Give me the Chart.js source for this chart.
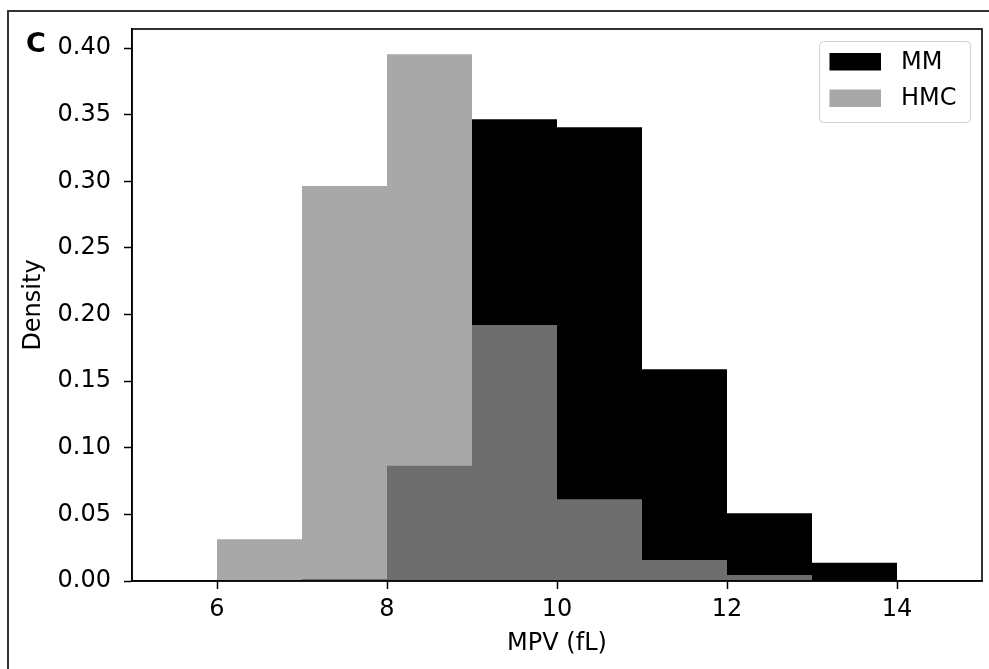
<!DOCTYPE html>
<html>
<head>
<meta charset="utf-8">
<script src="https://cdn.jsdelivr.net/npm/chart.js@4.4.1/dist/chart.umd.min.js"></script>
<style>
  html, body { margin: 0; padding: 0; background: #ffffff; }
  #wrap { width: 989px; height: 669px; position: relative; }
</style>
</head>
<body>
<div id="wrap"><canvas id="c" width="989" height="669"></canvas></div>
<script>
// ---- data ----
const binStarts = [6, 7, 8, 9, 10, 11, 12, 13];
const binWidth = 1;
const mmDensity  = [0, 0.0015, 0.0865, 0.3465, 0.3405, 0.1589, 0.0508, 0.0137];
const hmcDensity = [0.0313, 0.2964, 0.3953, 0.1921, 0.0613, 0.0158, 0.0045, 0];
const seriesLabels = ['MM', 'HMC'];
const xTicks = [6, 8, 10, 12, 14];
const yTicks = [0, 0.05, 0.10, 0.15, 0.20, 0.25, 0.30, 0.35, 0.40];
const xTitle = 'MPV (fL)';
const yTitle = 'Density';
const panelLetter = 'C';

const FONT = 'DejaVu Sans';
const FS = 24;
const MM_COLOR = '#000000';
const HMC_COLOR = 'rgba(142,142,142,0.773)';

function toPoints(vals) {
  return binStarts.map((s, i) => ({ x: s + binWidth / 2, y: vals[i] }));
}

const decorPlugin = {
  id: 'decor',
  afterDraw(chart) {
    const ctx = chart.ctx;
    const a = chart.chartArea;
    ctx.save();
    // full spine box
    ctx.strokeStyle = '#000';
    ctx.lineWidth = 1.6;
    ctx.strokeRect(a.left, a.top, a.right - a.left, a.bottom - a.top);
    // outer figure frame (open at right / bottom)
    ctx.strokeStyle = '#333';
    ctx.lineWidth = 2;
    ctx.beginPath();
    ctx.moveTo(8, 669);
    ctx.lineTo(8, 11);
    ctx.lineTo(989, 11);
    ctx.stroke();
    // panel letter
    ctx.fillStyle = '#000';
    ctx.font = 'bold 27px "' + FONT + '"';
    ctx.textBaseline = 'alphabetic';
    ctx.textAlign = 'left';
    ctx.fillText(panelLetter, 26, 52);
    // legend
    const lx = 819.5, ly = 41.5, lw = 151, lh = 81, r = 4;
    ctx.beginPath();
    ctx.moveTo(lx + r, ly);
    ctx.lineTo(lx + lw - r, ly);
    ctx.quadraticCurveTo(lx + lw, ly, lx + lw, ly + r);
    ctx.lineTo(lx + lw, ly + lh - r);
    ctx.quadraticCurveTo(lx + lw, ly + lh, lx + lw - r, ly + lh);
    ctx.lineTo(lx + r, ly + lh);
    ctx.quadraticCurveTo(lx, ly + lh, lx, ly + lh - r);
    ctx.lineTo(lx, ly + r);
    ctx.quadraticCurveTo(lx, ly, lx + r, ly);
    ctx.closePath();
    ctx.fillStyle = 'rgba(255,255,255,0.8)';
    ctx.fill();
    ctx.strokeStyle = '#d0d0d0';
    ctx.lineWidth = 1;
    ctx.stroke();
    const ds = chart.data.datasets;
    const order = [0, 1];
    const rows = [53, 89.5];
    ctx.font = FS + 'px "' + FONT + '"';
    ctx.textBaseline = 'middle';
    order.forEach((di, k) => {
      const y0 = rows[k];
      ctx.fillStyle = ds[di].backgroundColor;
      ctx.fillRect(829.5, y0, 51.5, 17.5);
      ctx.fillStyle = '#000';
      ctx.fillText(ds[di].label, 901, y0 + 9.5);
    });
    ctx.restore();
  }
};

new Chart(document.getElementById('c'), {
  type: 'bar',
  data: {
    datasets: [
      { label: seriesLabels[0], data: toPoints(mmDensity), backgroundColor: MM_COLOR, borderWidth: 0, inflateAmount: 0, order: 1 },
      { label: seriesLabels[1], data: toPoints(hmcDensity), backgroundColor: HMC_COLOR, borderWidth: 0, inflateAmount: 0, order: 0 }
    ]
  },
  options: {
    responsive: false,
    animation: false,
    devicePixelRatio: 1,
    grouped: false,
    barPercentage: 1,
    categoryPercentage: 1,
    layout: { padding: { left: 0, top: 29, right: 7, bottom: 0 } },
    plugins: { legend: { display: false }, tooltip: { enabled: false } },
    scales: {
      x: {
        type: 'linear',
        min: 5,
        max: 15,
        offset: false,
        afterBuildTicks: (s) => { s.ticks = xTicks.map(v => ({ value: v })); },
        afterFit: (s) => { s.height = 88; },
        ticks: {
          font: { family: FONT, size: FS },
          color: '#000',
          padding: 6,
          maxRotation: 0,
          callback: (v) => String(v)
        },
        grid: { drawOnChartArea: false, offset: false, color: '#000', tickLength: 8, tickWidth: 1.5 },
        border: { display: true, color: '#000', width: 1.6 },
        title: { display: true, text: xTitle, font: { family: FONT, size: FS }, color: '#000', padding: { top: 0, bottom: 11 } }
      },
      y: {
        type: 'linear',
        min: 0,
        max: 0.4143,
        afterBuildTicks: (s) => { s.ticks = yTicks.map(v => ({ value: v })); },
        afterFit: (s) => { s.width = 132; },
        ticks: {
          font: { family: FONT, size: FS },
          color: '#000',
          padding: 13,
          callback: (v) => Number(v).toFixed(2)
        },
        grid: { drawOnChartArea: false, color: '#000', tickLength: 8, tickWidth: 1.5 },
        border: { display: true, color: '#000', width: 1.6 },
        title: { display: true, text: yTitle, font: { family: FONT, size: FS }, color: '#000', padding: { top: 19, bottom: 0 } }
      }
    }
  },
  plugins: [decorPlugin]
});
</script>
</body>
</html>
